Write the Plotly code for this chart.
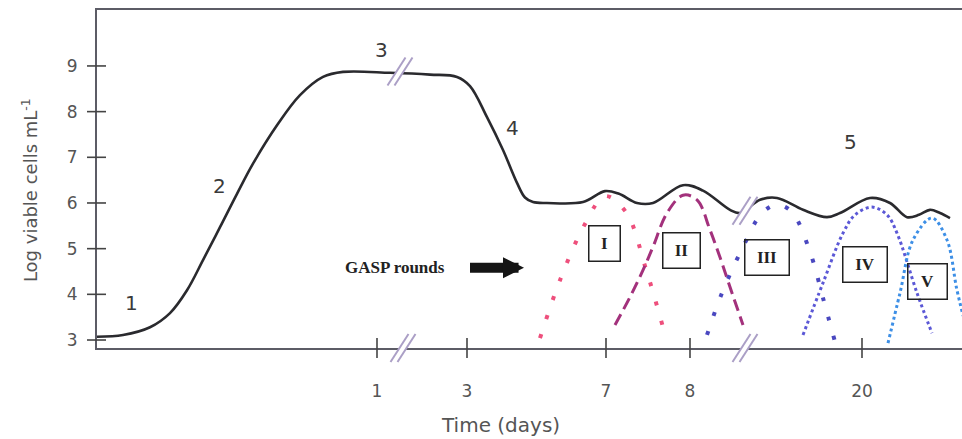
import plotly.graph_objects as go

# ---------------- data (schematic time position, log viable cells/mL) -------------
main_x = [0, 26, 53, 73, 90, 106, 123, 140, 156, 180, 203, 226, 246, 293, 333, 360, 373,
          390, 406, 420, 428, 436, 450, 486, 508, 522, 540, 556, 586, 606, 633, 643, 663,
          680, 706, 730, 743, 773, 793, 810, 822, 833, 843, 853]
main_y = [3.07, 3.11, 3.28, 3.59, 4.09, 4.75, 5.47, 6.20, 6.86, 7.70, 8.36, 8.76, 8.87, 8.85,
          8.81, 8.76, 8.56, 7.88, 7.16, 6.44, 6.12, 6.02, 6.00, 6.02, 6.26, 6.20, 6.00, 6.00,
          6.39, 6.27, 5.85, 5.78, 6.07, 6.11, 5.85, 5.69, 5.78, 6.11, 6.00, 5.69, 5.74, 5.85,
          5.78, 5.67]

r1_x = [443, 463, 488, 508, 529, 549, 566]
r1_y = [3.04, 4.31, 5.54, 6.15, 5.80, 4.55, 3.28]

r2_x = [518, 533, 546, 556, 570, 586, 600, 613, 623, 633, 646]
r2_y = [3.33, 3.94, 4.53, 5.04, 5.78, 6.17, 6.07, 5.41, 4.81, 4.16, 3.33]

r3_x = [610, 625, 645, 665, 680, 695, 713, 726, 738]
r3_y = [3.11, 4.03, 4.99, 5.78, 5.96, 5.80, 4.93, 3.92, 2.96]

r4_x = [706, 726, 746, 758, 775, 790, 800, 820, 835]
r4_y = [3.11, 4.25, 5.34, 5.74, 5.91, 5.74, 5.34, 4.03, 3.15]

r5_x = [791, 803, 816, 835, 850, 860, 868, 878]
r5_y = [2.93, 4.03, 5.19, 5.67, 5.19, 4.09, 3.40, 2.80]

round_labels = ["I", "II", "III", "IV", "V"]
round_box_x = [507, 584, 670, 768, 830]
round_box_y = [5.12, 4.97, 4.80, 4.66, 4.29]
round_box_w = [30, 36, 43, 43, 38]

phase_labels = ["1", "2", "3", "4", "5"]
phase_x = [34, 122, 284, 415, 753]
phase_y = [3.81, 6.37, 9.35, 7.64, 7.34]

x_tickvals = [280, 370, 509, 593, 765]
x_ticktext = ["1", "3", "7", "8", "20"]
y_tickvals = [3, 4, 5, 6, 7, 8, 9]

curve_breaks_x = [303, 648]
curve_breaks_y = [8.88, 5.83]
axis_breaks_x = [306, 648]

# ---------------- figure -------------
AXC = "#5c5c66"
TXC = "#555555"
fig = go.Figure()

round_styles = [
    (r1_x, r1_y, "#ee4f7c", 4, "4px,16px"),
    (r2_x, r2_y, "#a3317c", 3, "12px,6px"),
    (r3_x, r3_y, "#4a48c0", 4, "4px,16px"),
    (r4_x, r4_y, "#5b58d6", 3, "3px,3px"),
    (r5_x, r5_y, "#3d8fe6", 3, "3px,3px"),
]
for xs, ys, col, w, dash in round_styles:
    fig.add_trace(go.Scatter(x=xs, y=ys, mode="lines",
                             line=dict(color=col, width=w, dash=dash, shape="spline", smoothing=1.0),
                             hoverinfo="skip", showlegend=False))

fig.add_trace(go.Scatter(x=main_x, y=main_y, mode="lines",
                         line=dict(color="#2a2a2e", width=2.6, shape="spline", smoothing=1.0),
                         hoverinfo="skip", showlegend=False))

shapes = []
# cross tick marks
for v in x_tickvals:
    shapes.append(dict(type="line", xref="x", yref="paper", x0=v, x1=v,
                       ysizemode="pixel", yanchor=0, y0=-10, y1=10,
                       line=dict(color="#444", width=1.6)))
for v in y_tickvals:
    shapes.append(dict(type="line", xref="paper", yref="y", y0=v, y1=v,
                       xsizemode="pixel", xanchor=0, x0=-10, x1=9,
                       line=dict(color="#444", width=1.6)))


def break_mark(xref, yref, xa, ya):
    out = []
    out.append(dict(type="line", xref=xref, yref=yref, xsizemode="pixel", ysizemode="pixel",
                    xanchor=xa, yanchor=ya, x0=-9, x1=9, y0=-14, y1=14,
                    line=dict(color="white", width=6)))
    for off in (-3.5, 3.5):
        out.append(dict(type="line", xref=xref, yref=yref, xsizemode="pixel", ysizemode="pixel",
                        xanchor=xa, yanchor=ya, x0=-9 + off, x1=9 + off, y0=-14, y1=14,
                        line=dict(color="#ab9fc6", width=2)))
    return out


for bx, by in zip(curve_breaks_x, curve_breaks_y):
    shapes += break_mark("x", "y", bx, by)
for bx in axis_breaks_x:
    shapes += break_mark("x", "paper", bx, 0)

annotations = []
for lab, x, y in zip(phase_labels, phase_x, phase_y):
    annotations.append(dict(x=x, y=y, text=lab, showarrow=False,
                            font=dict(family="DejaVu Sans", size=20, color="#3a3a3a")))
for lab, x, y, w in zip(round_labels, round_box_x, round_box_y, round_box_w):
    annotations.append(dict(x=x, y=y, text="<b>" + lab + "</b>", showarrow=False,
                            width=w, height=34, borderpad=0, bordercolor="#222",
                            borderwidth=1.5,
                            font=dict(family="Liberation Serif", size=17, color="#222")))
annotations.append(dict(x=298, y=4.58, text="<b>GASP rounds</b>", showarrow=False,
                        font=dict(family="Liberation Serif", size=17, color="#222")))
annotations.append(dict(x=427, y=4.58, ax=370, ay=4.58, axref="x", ayref="y", text=" ",
                        showarrow=True, arrowhead=2, arrowsize=0.42, arrowwidth=10,
                        arrowcolor="#151515"))
annotations.append(dict(x=0.466, y=-0.228, xref="paper", yref="paper", text="Time (days)",
                        showarrow=False, xanchor="center", yanchor="middle",
                        font=dict(family="DejaVu Sans", size=20, color=TXC)))
annotations.append(dict(x=-0.0775, y=0.467, xref="paper", yref="paper",
                        text="Log viable cells mL<sup>-1</sup>", textangle=-90,
                        xanchor="center", yanchor="middle",
                        showarrow=False, font=dict(family="DejaVu Sans", size=18, color=TXC)))

fig.update_layout(
    width=962, height=439,
    margin=dict(l=97, r=0, t=10, b=91),
    paper_bgcolor="white", plot_bgcolor="white",
    shapes=shapes, annotations=annotations,
    xaxis=dict(range=[0, 865], showgrid=False, zeroline=False, showline=True, mirror=True,
               linecolor=AXC, linewidth=2, ticks="", tickvals=x_tickvals, ticktext=x_ticktext,
               ticklabelstandoff=27, tickfont=dict(family="DejaVu Sans", size=17, color=TXC)),
    yaxis=dict(range=[2.825, 10.225], showgrid=False, zeroline=False, showline=True,
               linecolor=AXC, linewidth=2, ticks="", tickvals=y_tickvals,
               ticklabelstandoff=14, tickfont=dict(family="DejaVu Sans", size=17, color=TXC)),
)

fig.write_html("out.html")
